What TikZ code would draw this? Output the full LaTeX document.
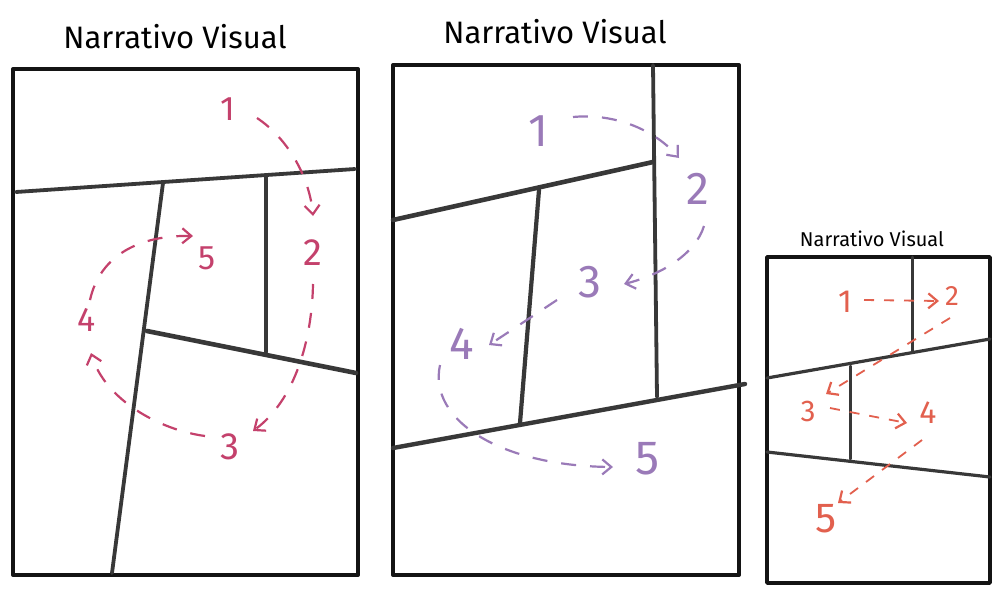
\documentclass[tikz,border=0pt]{standalone}
\usepackage{fontspec}
\setmainfont{Fira Sans}
\usetikzlibrary{arrows.meta}
\definecolor{pinkc}{HTML}{C4416C}
\definecolor{purplec}{HTML}{9A7AB8}
\definecolor{redc}{HTML}{E2604E}
\tikzset{
  frame/.style={line width=4pt, black!92, line join=round},
  cut/.style={line width=3.8pt, black!78, line cap=round},
  title/.style={font=\fontsize{#1}{#1}\selectfont, inner sep=0pt, text=black},
  num/.style={font=\fontsize{#1}{#1}\selectfont, inner sep=0pt},
  flow/.style={line width=2.2pt, dash pattern=on 15pt off 14pt, -{Straight Barb[length=9pt,width=15pt,line width=2.2pt]}}
}
\begin{document}
\begin{tikzpicture}[x=1pt,y=-1pt]
\useasboundingbox (0,0) rectangle (997,592);
\fill[white] (0,0) rectangle (997,592);

% ---------- Panel 1 ----------
\node[title=31] (t1) at (175,37) {Narrativo Visual};
\draw[frame] (13,69) rectangle (358,575);
\draw[cut] (16,192) -- (355,169);
\draw[cut] (163,183) -- (112,573);
\draw[cut] (266,176) -- (266,352);
\draw[cut, line width=4.6pt] (147,331) -- (356,373);
\begin{scope}[pinkc]
\node[num=34] (p1) at (228,109) {1};
\node[num=38] (p2) at (313,253) {2};
\node[num=38] (p3) at (230,447) {3};
\node[num=34] (p4) at (87,320) {4};
\node[num=34] (p5) at (207,258) {5};
\coordinate (p12s) at (257,118); \coordinate (p12e) at (313,216);
\coordinate (p23s) at (313,284); \coordinate (p23e) at (253,431);
\coordinate (p34s) at (205,436); \coordinate (p34e) at (91,353);
\coordinate (p45s) at (90,300);  \coordinate (p45e) at (193,236);
\draw[flow] (p12s) .. controls (290,140) and (310,180) .. (p12e);
\draw[flow] (p23s) .. controls (312,340) and (295,400) .. (p23e);
\draw[flow] (p34s) .. controls (160,430) and (105,400) .. (p34e);
\draw[flow] (p45s) .. controls (100,255) and (140,235) .. (p45e);
\end{scope}

% ---------- Panel 2 ----------
\node[title=31] (t2) at (555,32) {Narrativo Visual};
\draw[frame] (393,65) rectangle (739,575);
\draw[cut] (653,65) -- (657,397);
\draw[cut, line width=4.6pt] (393,220) -- (653,162);
\draw[cut, line width=4.2pt] (539,190) -- (520,423);
\draw[cut, line width=4.4pt] (393,448) -- (745,384);
\begin{scope}[purplec]
\node[num=46] (q1) at (538,131) {1};
\node[num=46] (q2) at (698,189) {2};
\node[num=46] (q3) at (590,282) {3};
\node[num=46] (q4) at (462,344) {4};
\node[num=48] (q5) at (648,459) {5};
\coordinate (q12s) at (573,117); \coordinate (q12e) at (679,158);
\coordinate (q23s) at (704,226); \coordinate (q23e) at (624,284);
\coordinate (q34s) at (557,300); \coordinate (q34e) at (489,345);
\coordinate (q45s) at (440,365); \coordinate (q45e) at (613,467);
\draw[flow] (q12s) .. controls (615,113) and (655,130) .. (q12e);
\draw[flow] (q23s) .. controls (695,255) and (660,275) .. (q23e);
\draw[flow] (q34s) -- (q34e);
\draw[flow] (q45s) .. controls (428,420) and (500,466) .. (q45e);
\end{scope}

% ---------- Panel 3 ----------
\node[title=20] (t3) at (872,239) {Narrativo Visual};
\draw[frame, line width=3.4pt] (767,257) rectangle (990,583);
\draw[cut, line width=3pt] (912,257) -- (912,352);
\draw[cut, line width=3.2pt] (767,378) -- (990,339);
\draw[cut, line width=3pt] (850,366) -- (850,459);
\draw[cut, line width=3.2pt] (767,452) -- (990,477);
\begin{scope}[redc]
\tikzset{flow/.append style={line width=1.8pt, dash pattern=on 10pt off 10pt}}
\node[num=32] (r1) at (845,302) {1};
\node[num=28] (r2) at (952,296) {2};
\node[num=30] (r3) at (808,411) {3};
\node[num=32] (r4) at (928,413) {4};
\node[num=42] (r5) at (826,519) {5};
\coordinate (r12s) at (864,300); \coordinate (r12e) at (939,301);
\coordinate (r23s) at (950,318); \coordinate (r23e) at (826,394);
\coordinate (r34s) at (830,408); \coordinate (r34e) at (907,423);
\coordinate (r45s) at (922,440); \coordinate (r45e) at (838,503);
\draw[flow] (r12s) -- (r12e);
\draw[flow] (r23s) -- (r23e);
\draw[flow] (r34s) .. controls (860,414) .. (r34e);
\draw[flow] (r45s) -- (r45e);
\end{scope}
\end{tikzpicture}
\end{document}
